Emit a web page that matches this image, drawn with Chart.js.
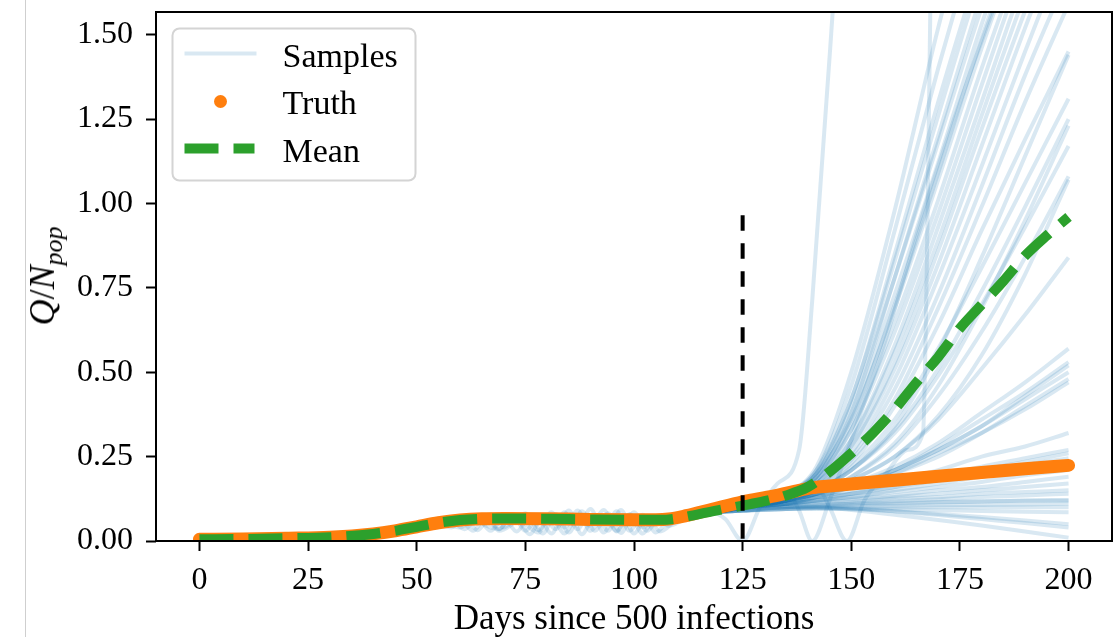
<!DOCTYPE html>
<html>
<head>
<meta charset="utf-8">
<script src="https://cdn.jsdelivr.net/npm/chart.js@4"></script>
<style>
  html, body { margin: 0; padding: 0; background: #fff; }
  #wrap { position: relative; width: 1116px; height: 637px; }
  #gutter { position: absolute; left: 25px; top: 0; width: 1px; height: 637px; background: #cfcfcf; }
  #ylab {
    position: absolute; left: 42px; top: 276px;
    transform: translate(-50%, -50%) rotate(-90deg);
    font: 36px "Liberation Serif", serif; line-height: 1; white-space: nowrap; color: #000;
  }
  #ylab sub { font-size: 0.72em; vertical-align: baseline; position: relative; top: 0.3em; }
</style>
</head>
<body>
<div id="wrap">
  <canvas id="chart" width="1116" height="637"></canvas>
  <div id="gutter"></div>
  <div id="ylab"><i>Q</i>/<i>N</i><sub><i>pop</i></sub></div>
</div>
<script>
const xTicks = [0, 25, 50, 75, 100, 125, 150, 175, 200];
const yTicks = [0, 0.25, 0.5, 0.75, 1.0, 1.25, 1.5];

// observed trajectory
const truthDays = [0, 10, 20, 30, 40, 45, 50, 55, 60, 65, 70, 80, 90, 100, 105, 108, 112, 118, 125, 132, 138, 141, 145, 150, 160, 170, 180, 190, 200];
const truthQ = [0.005, 0.006, 0.008, 0.011, 0.021, 0.030, 0.042, 0.054, 0.062, 0.066, 0.067, 0.066, 0.064, 0.063, 0.063, 0.065, 0.075, 0.094, 0.116, 0.133, 0.150, 0.158, 0.163, 0.169, 0.180, 0.192, 0.203, 0.214, 0.224];

// ensemble mean
const meanDays = [0, 10, 20, 30, 40, 45, 50, 55, 60, 65, 70, 80, 90, 100, 105, 108, 112, 118, 125, 130, 135, 140, 145, 150, 155, 160, 165, 170, 175, 180, 185, 190, 195, 200];
const meanQ = [0.005, 0.006, 0.008, 0.011, 0.021, 0.030, 0.042, 0.054, 0.062, 0.066, 0.067, 0.066, 0.064, 0.063, 0.063, 0.064, 0.072, 0.088, 0.105, 0.118, 0.135, 0.160, 0.205, 0.26, 0.32, 0.39, 0.47, 0.545, 0.63, 0.70, 0.77, 0.845, 0.905, 0.96];

// shared fitted history of the samples before the forecast window
const histDays = [0, 10, 20, 30, 40, 45, 50, 55, 60, 65, 70, 80, 90, 100, 105, 108, 112, 118];
const histQ = [0.005, 0.006, 0.008, 0.011, 0.020, 0.028, 0.040, 0.052, 0.060, 0.064, 0.065, 0.064, 0.063, 0.062, 0.062, 0.063, 0.070, 0.084];

// samples that oscillate around the plateau
const wiggleDays = [50, 56, 60, 63, 66, 69, 72, 75, 78, 81, 84, 87, 90, 93, 96, 99, 102, 105, 108, 112, 118, 125];
const wiggleA = [0.040, 0.055, 0.060, 0.030, 0.072, 0.035, 0.080, 0.050, 0.025, 0.085, 0.040, 0.090, 0.030, 0.075, 0.028, 0.080, 0.040, 0.065, 0.060, 0.068, 0.085, 0.100];
const wiggleB = [0.040, 0.056, 0.064, 0.075, 0.045, 0.035, 0.078, 0.030, 0.070, 0.022, 0.085, 0.035, 0.095, 0.025, 0.088, 0.030, 0.078, 0.025, 0.060, 0.066, 0.085, 0.100];
const wiggleC = [0.040, 0.050, 0.040, 0.066, 0.070, 0.030, 0.050, 0.082, 0.032, 0.074, 0.022, 0.072, 0.045, 0.092, 0.030, 0.078, 0.022, 0.072, 0.045, 0.067, 0.085, 0.100];
const wiggleFastDays = [55, 58, 61, 64, 67, 70, 73, 76, 79, 82, 85, 88, 91, 94, 97, 100, 103, 106, 110, 118, 125];
const wiggleD = [0.050, 0.058, 0.035, 0.066, 0.030, 0.070, 0.028, 0.075, 0.022, 0.080, 0.025, 0.088, 0.030, 0.082, 0.024, 0.085, 0.030, 0.070, 0.064, 0.085, 0.100];
const wiggleE = [0.050, 0.040, 0.068, 0.032, 0.072, 0.040, 0.065, 0.020, 0.074, 0.035, 0.090, 0.020, 0.078, 0.030, 0.092, 0.022, 0.075, 0.028, 0.064, 0.085, 0.100];

// samples that dip to zero before taking off
const dipADays = [118, 121, 125, 129, 133, 138, 141, 146, 149];
const dipAQ = [0.084, 0.065, 0.0, 0.10, 0.17, 0.27, 0.71, 1.62, 2.2];
const dipBDays = [125, 135, 138, 141, 145, 150, 158, 166, 175, 185, 200];
const dipBQ = [0.10, 0.15, 0.09, 0.0, 0.12, 0.30, 0.60, 0.95, 1.30, 1.65, 2.1];
const dipCDays = [125, 135, 142, 145, 149, 153, 158, 163, 166.5, 167.6, 169];
const dipCQ = [0.10, 0.13, 0.16, 0.10, 0.0, 0.12, 0.20, 0.27, 0.32, 1.0, 2.4];

// forecast part of each sample
const forecastDays = [125, 135, 142, 150, 160, 170, 180, 190, 200];
const forecastRuns = [
  [0.10, 0.14, 0.22, 0.50, 0.98, 1.52, 2.0, 2.4, 2.8],
  [0.10, 0.14, 0.21, 0.46, 0.92, 1.40, 1.85, 2.3, 2.7],
  [0.10, 0.13, 0.20, 0.42, 0.85, 1.30, 1.72, 2.1, 2.5],
  [0.11, 0.14, 0.21, 0.42, 0.83, 1.26, 1.68, 2.05, 2.45],
  [0.10, 0.13, 0.19, 0.38, 0.78, 1.20, 1.62, 2.0, 2.4],
  [0.10, 0.14, 0.20, 0.40, 0.78, 1.18, 1.58, 1.95, 2.3],
  [0.10, 0.13, 0.19, 0.37, 0.73, 1.12, 1.53, 1.9, 2.25],
  [0.10, 0.13, 0.18, 0.35, 0.70, 1.09, 1.49, 1.85, 2.2],
  [0.11, 0.14, 0.20, 0.36, 0.69, 1.07, 1.46, 1.82, 2.15],
  [0.10, 0.13, 0.18, 0.33, 0.65, 1.01, 1.40, 1.76, 2.1],
  [0.10, 0.13, 0.19, 0.33, 0.62, 0.97, 1.35, 1.72, 2.05],
  [0.10, 0.12, 0.17, 0.30, 0.58, 0.93, 1.30, 1.67, 2.0],
  [0.10, 0.13, 0.18, 0.30, 0.56, 0.89, 1.26, 1.62, 1.95],
  [0.10, 0.12, 0.17, 0.28, 0.53, 0.86, 1.22, 1.57, 1.9],
  [0.10, 0.13, 0.17, 0.28, 0.51, 0.82, 1.17, 1.52, 1.85],
  [0.10, 0.12, 0.16, 0.26, 0.48, 0.78, 1.11, 1.45, 1.78],
  [0.10, 0.12, 0.16, 0.25, 0.45, 0.73, 1.05, 1.38, 1.68],
  [0.10, 0.12, 0.16, 0.24, 0.42, 0.69, 0.99, 1.30, 1.59],
  [0.10, 0.12, 0.15, 0.23, 0.40, 0.64, 0.92, 1.19, 1.45],
  [0.10, 0.12, 0.15, 0.21, 0.34, 0.56, 0.84, 1.14, 1.44],
  [0.10, 0.12, 0.15, 0.22, 0.36, 0.57, 0.81, 1.06, 1.31],
  [0.10, 0.12, 0.15, 0.21, 0.33, 0.51, 0.74, 0.99, 1.25],
  [0.10, 0.12, 0.14, 0.19, 0.29, 0.46, 0.69, 0.95, 1.23],
  [0.10, 0.12, 0.15, 0.21, 0.32, 0.49, 0.70, 0.93, 1.17],
  [0.10, 0.12, 0.14, 0.19, 0.28, 0.43, 0.62, 0.84, 1.08],
  [0.10, 0.11, 0.14, 0.18, 0.25, 0.37, 0.55, 0.79, 1.07],
  [0.10, 0.12, 0.14, 0.18, 0.25, 0.36, 0.51, 0.67, 0.84],
  [0.10, 0.12, 0.14, 0.17, 0.22, 0.29, 0.38, 0.47, 0.57],
  [0.10, 0.12, 0.14, 0.17, 0.21, 0.28, 0.36, 0.44, 0.53],
  [0.10, 0.11, 0.13, 0.16, 0.21, 0.27, 0.34, 0.43, 0.52],
  [0.10, 0.12, 0.14, 0.16, 0.21, 0.27, 0.34, 0.42, 0.50],
  [0.10, 0.11, 0.13, 0.16, 0.20, 0.25, 0.32, 0.40, 0.48],
  [0.10, 0.12, 0.14, 0.16, 0.20, 0.26, 0.32, 0.39, 0.47],
  [0.10, 0.12, 0.13, 0.15, 0.18, 0.21, 0.25, 0.28, 0.32],
  [0.10, 0.11, 0.13, 0.14, 0.17, 0.19, 0.22, 0.245, 0.27],
  [0.10, 0.12, 0.13, 0.14, 0.16, 0.19, 0.21, 0.235, 0.26],
  [0.10, 0.11, 0.12, 0.14, 0.16, 0.18, 0.20, 0.225, 0.245],
  [0.10, 0.11, 0.12, 0.13, 0.15, 0.17, 0.19, 0.21, 0.23],
  [0.10, 0.11, 0.12, 0.13, 0.145, 0.16, 0.175, 0.195, 0.21],
  [0.10, 0.11, 0.12, 0.125, 0.135, 0.15, 0.16, 0.175, 0.19],
  [0.10, 0.11, 0.115, 0.12, 0.13, 0.14, 0.15, 0.16, 0.17],
  [0.10, 0.105, 0.11, 0.115, 0.125, 0.13, 0.14, 0.145, 0.15],
  [0.095, 0.10, 0.105, 0.11, 0.118, 0.124, 0.13, 0.135, 0.14],
  [0.09, 0.10, 0.103, 0.107, 0.11, 0.114, 0.117, 0.119, 0.12],
  [0.10, 0.105, 0.108, 0.11, 0.113, 0.116, 0.118, 0.12, 0.121],
  [0.09, 0.095, 0.10, 0.102, 0.104, 0.106, 0.107, 0.108, 0.11],
  [0.09, 0.095, 0.097, 0.098, 0.099, 0.10, 0.10, 0.10, 0.10],
  [0.09, 0.095, 0.096, 0.095, 0.093, 0.091, 0.089, 0.087, 0.085],
  [0.09, 0.095, 0.096, 0.094, 0.088, 0.08, 0.071, 0.061, 0.05],
  [0.09, 0.10, 0.10, 0.097, 0.088, 0.077, 0.065, 0.053, 0.04],
  [0.09, 0.10, 0.10, 0.092, 0.078, 0.062, 0.046, 0.028, 0.01],
];

// start of the forecast window
const cutoffDay = 125;
const cutoffTop = 0.965;

const BLUE = 'rgba(31,119,180,0.17)';
const ORANGE = '#ff7f0e';
const GREEN = '#2ca02c';
const FONT = '"Liberation Serif", serif';

const pts = (days, q) => days.map((d, i) => ({ x: d, y: q[i] }));
// prepend the shared history to a run that starts later
const withHistory = (days, q) => {
  const keep = histDays.filter(d => d < days[0]);
  return pts(keep, histQ).concat(pts(days, q));
};

const sampleLine = data => ({
  data, borderColor: BLUE, borderWidth: 4, pointRadius: 0,
  cubicInterpolationMode: 'monotone', borderCapStyle: 'butt', clip: 0,
});

const samples = [
  ...forecastRuns.map(run => withHistory(forecastDays, run)),
  withHistory(wiggleDays, wiggleA),
  withHistory(wiggleDays, wiggleB),
  withHistory(wiggleDays, wiggleC),
  withHistory(wiggleFastDays, wiggleD),
  withHistory(wiggleFastDays, wiggleE),
  withHistory(dipADays, dipAQ),
  withHistory(dipBDays, dipBQ),
  withHistory(dipCDays, dipCQ),
].map(sampleLine);

// frame on all four sides and the legend box
const frameLegend = {
  id: 'frameLegend',
  afterDraw(chart) {
    const { ctx, chartArea: a } = chart;
    ctx.save();
    ctx.strokeStyle = '#000';
    ctx.lineWidth = 2;
    ctx.strokeRect(a.left, a.top, a.right - a.left, a.bottom - a.top);

    const bx = a.left + 16.5, by = a.top + 16.5, bw = 243, bh = 152, r = 7;
    ctx.beginPath();
    ctx.moveTo(bx + r, by);
    ctx.arcTo(bx + bw, by, bx + bw, by + bh, r);
    ctx.arcTo(bx + bw, by + bh, bx, by + bh, r);
    ctx.arcTo(bx, by + bh, bx, by, r);
    ctx.arcTo(bx, by, bx + bw, by, r);
    ctx.closePath();
    ctx.fillStyle = 'rgba(255,255,255,0.8)';
    ctx.fill();
    ctx.strokeStyle = '#d4d4d4';
    ctx.lineWidth = 2;
    ctx.stroke();

    const hx = bx + 12, tx = bx + 110;
    ctx.lineCap = 'butt';
    ctx.strokeStyle = BLUE;
    ctx.lineWidth = 4;
    ctx.beginPath(); ctx.moveTo(hx, by + 25); ctx.lineTo(hx + 72, by + 25); ctx.stroke();

    ctx.fillStyle = ORANGE;
    ctx.beginPath(); ctx.arc(hx + 36, by + 73, 6.5, 0, Math.PI * 2); ctx.fill();

    ctx.strokeStyle = GREEN;
    ctx.lineWidth = 10;
    ctx.setLineDash([34, 15]);
    ctx.beginPath(); ctx.moveTo(hx, by + 120); ctx.lineTo(hx + 70, by + 120); ctx.stroke();
    ctx.setLineDash([]);

    ctx.fillStyle = '#000';
    ctx.font = '34px ' + FONT;
    ctx.textBaseline = 'alphabetic';
    ctx.fillText('Samples', tx, by + 38);
    ctx.fillText('Truth', tx, by + 85);
    ctx.fillText('Mean', tx, by + 133);
    ctx.restore();
  },
};

const axisCommon = {
  grid: { display: true, drawOnChartArea: false, drawTicks: true, tickLength: 10, tickWidth: 2, tickColor: '#000' },
  border: { display: false },
};

new Chart(document.getElementById('chart'), {
  type: 'line',
  data: {
    datasets: [
      {
        data: [{ x: cutoffDay, y: cutoffTop }, { x: cutoffDay, y: 0 }],
        borderColor: '#000', borderWidth: 4, borderDash: [15.5, 12.5], pointRadius: 0, clip: 0,
      },
      {
        data: pts(meanDays, meanQ), borderColor: GREEN, borderWidth: 10, borderDash: [34, 15],
        pointRadius: 0, cubicInterpolationMode: 'monotone', clip: 0,
      },
      {
        data: pts(truthDays, truthQ), borderColor: ORANGE, borderWidth: 13, pointRadius: 0,
        borderCapStyle: 'round', borderJoinStyle: 'round', cubicInterpolationMode: 'monotone', clip: 0,
      },
      ...samples,
    ],
  },
  options: {
    responsive: false,
    animation: false,
    devicePixelRatio: 1,
    layout: { padding: { top: 12, right: 4, left: 0, bottom: 0 } },
    plugins: { legend: { display: false }, tooltip: { enabled: false } },
    scales: {
      x: {
        type: 'linear', min: -10, max: 210,
        ...axisCommon,
        afterBuildTicks: s => { s.ticks = xTicks.map(v => ({ value: v })); },
        afterFit: s => { s.height = 96; s.paddingLeft = 0; s.paddingRight = 0; },
        ticks: { color: '#000', font: { family: FONT, size: 32 }, padding: 10, maxRotation: 0, callback: v => String(v) },
        title: { display: true, text: 'Days since 500 infections', color: '#000', font: { family: FONT, size: 35, lineHeight: 1.0 }, padding: 0 },
      },
      y: {
        type: 'linear', min: 0, max: 1.567,
        ...axisCommon,
        afterBuildTicks: s => { s.ticks = yTicks.map(v => ({ value: v })); },
        afterFit: s => { s.width = 156; s.paddingTop = 0; s.paddingBottom = 0; },
        ticks: { color: '#000', font: { family: FONT, size: 32 }, padding: 13, callback: v => v.toFixed(2) },
      },
    },
  },
  plugins: [frameLegend],
});
</script>
</body>
</html>
